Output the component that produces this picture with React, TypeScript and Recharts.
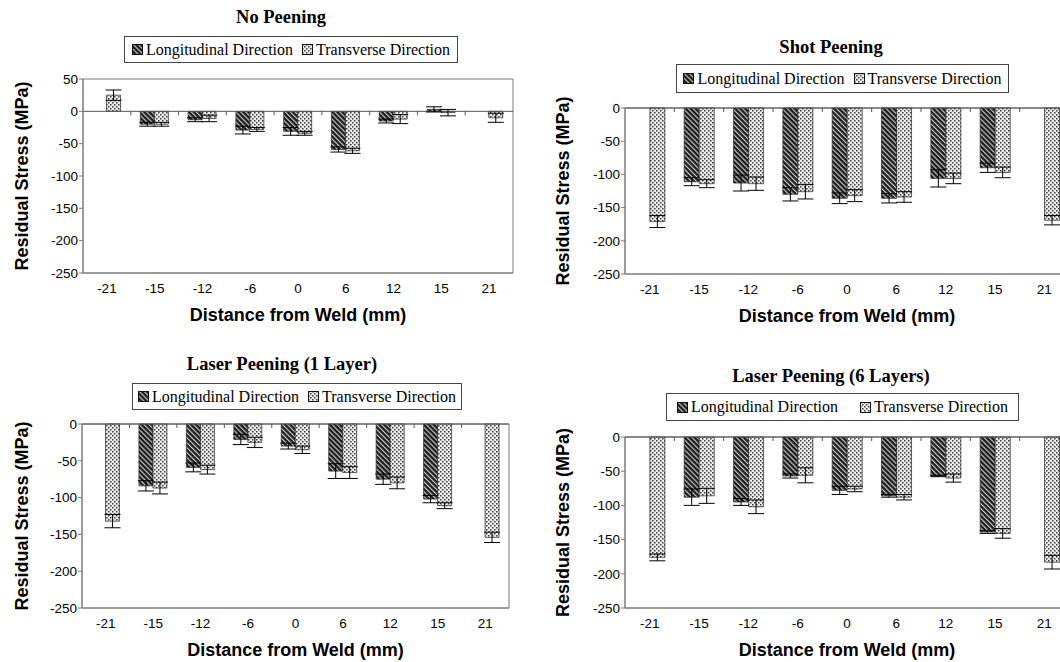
import React from "react";
import {
  BarChart,
  Bar,
  XAxis,
  YAxis,
  ErrorBar,
  ReferenceLine,
  ReferenceArea,
} from "recharts";

// distance from weld (mm)
const distances = ["-21", "-15", "-12", "-6", "0", "6", "12", "15", "21"];

// No peening
const noPeenLong = [null, -20, -13, -29, -31, -59, -15, 3, null];
const noPeenTrans = [25, -20, -11, -28, -34, -61, -12, -2, -10];
const noPeenLongErr = [null, 3, 3, 6, 6, 4, 3, 4, null];
const noPeenTransErr = [8, 3, 5, 3, 3, 4, 7, 5, 7];

// Shot peening
const shotLong = [null, -111, -113, -130, -136, -136, -106, -90, null];
const shotTrans = [-171, -114, -114, -126, -132, -134, -106, -97, -169];
const shotLongErr = [null, 6, 12, 10, 8, 7, 13, 7, null];
const shotTransErr = [9, 6, 10, 11, 9, 8, 8, 8, 7];

// Laser peening, 1 layer
const laser1Long = [null, -84, -59, -21, -30, -64, -75, -102, null];
const laser1Trans = [-132, -87, -62, -25, -35, -66, -80, -111, -154];
const laser1LongErr = [null, 7, 6, 7, 4, 10, 7, 5, null];
const laser1TransErr = [9, 8, 6, 7, 5, 8, 8, 4, 7];

// Laser peening, 6 layers
const laser6Long = [null, -88, -95, -57, -78, -86, -57, -139, null];
const laser6Trans = [-176, -86, -102, -56, -76, -88, -60, -141, -183];
const laser6LongErr = [null, 12, 5, 3, 6, 2, 1, 2, null];
const laser6TransErr = [5, 11, 10, 11, 4, 4, 6, 7, 10];

const ticksUpTo50 = [50, 0, -50, -100, -150, -200, -250];
const ticksUpTo0 = [0, -50, -100, -150, -200, -250];

const buildRows = (
  longi: (number | null)[],
  trans: (number | null)[],
  longErr: (number | null)[],
  transErr: (number | null)[]
) =>
  distances.map((dist, i) => ({
    dist,
    longi: longi[i],
    trans: trans[i],
    longErr: longErr[i],
    transErr: transErr[i],
  }));

const panels = [
  {
    title: "No Peening",
    rows: buildRows(noPeenLong, noPeenTrans, noPeenLongErr, noPeenTransErr),
    domain: [-250, 50],
    ticks: ticksUpTo50,
    left: 0, top: 70, width: 530, height: 255,
    yWidth: 83, marginTop: 9, marginRight: 17, yLabelOffset: 22,
    titleX: 281, titleY: 17,
    legend: { x: 124, y: 36, w: 334, h: 27, gap: 9 },
  },
  {
    title: "Shot Peening",
    rows: buildRows(shotLong, shotTrans, shotLongErr, shotTransErr),
    domain: [-250, 0],
    ticks: ticksUpTo0,
    left: 530, top: 80, width: 545, height: 246,
    yWidth: 95, marginTop: 28, marginRight: 6, yLabelOffset: 33,
    titleX: 831, titleY: 47,
    legend: { x: 676, y: 64, w: 333, h: 29, gap: 9 },
  },
  {
    title: "Laser Peening (1 Layer)",
    rows: buildRows(laser1Long, laser1Trans, laser1LongErr, laser1TransErr),
    domain: [-250, 0],
    ticks: ticksUpTo0,
    left: 0, top: 415, width: 530, height: 245,
    yWidth: 82, marginTop: 9, marginRight: 21, yLabelOffset: 22,
    titleX: 282, titleY: 364,
    legend: { x: 132, y: 383, w: 330, h: 27, gap: 9 },
  },
  {
    title: "Laser Peening (6 Layers)",
    rows: buildRows(laser6Long, laser6Trans, laser6LongErr, laser6TransErr),
    domain: [-250, 0],
    ticks: ticksUpTo0,
    left: 530, top: 410, width: 545, height: 250,
    yWidth: 95, marginTop: 27, marginRight: 6, yLabelOffset: 33,
    titleX: 831, titleY: 376,
    legend: { x: 666, y: 393, w: 353, h: 28, gap: 22 },
  },
];

const AXIS_GRAY = "#7a7a7a";
const sans = "'Liberation Sans', Arial, sans-serif";
const serif = "'Liberation Serif', 'Times New Roman', serif";

// zero line with the small category-boundary ticks hanging below it
const ZeroLine = (props: any) => {
  const { x1, y1, x2, y2 } = props;
  const step = (x2 - x1) / distances.length;
  const marks = [];
  for (let i = 1; i < distances.length; i++) {
    const x = x1 + step * i;
    marks.push(<line key={i} x1={x} x2={x} y1={y1} y2={y1 + 4} stroke="#555" />);
  }
  return (
    <g>
      <line x1={x1} y1={y1} x2={x2} y2={y2} stroke="#555" strokeWidth={1} />
      {marks}
    </g>
  );
};

const Swatch = ({ fill }: { fill: string }) => (
  <svg width={11} height={11} style={{ display: "block" }}>
    <rect x={0.5} y={0.5} width={10} height={10} fill={fill} stroke="#111" />
  </svg>
);

function Panel({ p }: { p: (typeof panels)[number] }) {
  return (
    <>
      <div
        style={{
          position: "absolute",
          left: p.titleX - 160,
          top: p.titleY - 11,
          width: 320,
          lineHeight: "22px",
          textAlign: "center",
          fontFamily: serif,
          fontWeight: "bold",
          fontSize: 18.5,
        }}
      >
        {p.title}
      </div>
      <div
        style={{
          position: "absolute",
          left: p.legend.x,
          top: p.legend.y,
          width: p.legend.w,
          height: p.legend.h,
          boxSizing: "border-box",
          border: "1px solid #444",
          display: "flex",
          alignItems: "center",
          justifyContent: "center",
          gap: p.legend.gap,
          fontFamily: serif,
          fontSize: 16,
          whiteSpace: "nowrap",
          background: "#fff",
        }}
      >
        <span style={{ display: "flex", alignItems: "center", gap: 3 }}>
          <Swatch fill="url(#hatchLong)" />
          Longitudinal Direction
        </span>
        <span style={{ display: "flex", alignItems: "center", gap: 3 }}>
          <Swatch fill="url(#dotTrans)" />
          Transverse Direction
        </span>
      </div>
      <div style={{ position: "absolute", left: p.left, top: p.top }}>
        <BarChart
          width={p.width}
          height={p.height}
          data={p.rows}
          margin={{ top: p.marginTop, right: p.marginRight, bottom: 0, left: 0 }}
          barCategoryGap="20%"
          barGap={0}
        >
          <ReferenceArea
            y1={p.domain[0]}
            y2={p.domain[1]}
            fill="none"
            stroke={AXIS_GRAY}
            strokeWidth={1}
          />
          <XAxis
            dataKey="dist"
            height={52}
            interval={0}
            tickLine={false}
            tickSize={8}
            tickMargin={2}
            axisLine={{ stroke: AXIS_GRAY }}
            tick={{ fontSize: 13.5, fill: "#000", fontFamily: sans }}
            label={{
              value: "Distance from Weld (mm)",
              position: "insideBottom",
              offset: 4,
              style: { fontSize: 18, fontWeight: "bold", fill: "#000", fontFamily: sans },
            }}
          />
          <YAxis
            width={p.yWidth}
            domain={p.domain}
            ticks={p.ticks}
            interval={0}
            tickSize={4}
            tickMargin={1}
            tickLine={{ stroke: AXIS_GRAY }}
            axisLine={{ stroke: AXIS_GRAY }}
            tick={{ fontSize: 13.5, fill: "#000", fontFamily: sans }}
            label={{
              value: "Residual Stress (MPa)",
              angle: -90,
              position: "insideLeft",
              offset: p.yLabelOffset,
              style: {
                textAnchor: "middle",
                fontSize: 18,
                fontWeight: "bold",
                fill: "#000",
                fontFamily: sans,
              },
            }}
          />
          <ReferenceLine y={0} shape={ZeroLine} />
          <Bar
            dataKey="longi"
            fill="url(#hatchLong)"
            stroke="#222"
            strokeWidth={0.7}
            isAnimationActive={false}
          >
            <ErrorBar dataKey="longErr" width={8} stroke="#000" strokeWidth={1} direction="y" />
          </Bar>
          <Bar
            dataKey="trans"
            fill="url(#dotTrans)"
            stroke="#222"
            strokeWidth={0.7}
            isAnimationActive={false}
          >
            <ErrorBar dataKey="transErr" width={8} stroke="#000" strokeWidth={1} direction="y" />
          </Bar>
        </BarChart>
      </div>
    </>
  );
}

export default function App() {
  return (
    <div
      style={{
        position: "fixed",
        left: 0,
        top: 0,
        width: 1060,
        height: 662,
        overflow: "hidden",
        background: "#fff",
      }}
    >
      <svg width={0} height={0} style={{ position: "absolute" }}>
        <defs>
          <pattern
            id="hatchLong"
            width={3.5}
            height={3.5}
            patternUnits="userSpaceOnUse"
            patternTransform="rotate(-45)"
          >
            <rect width={3.5} height={3.5} fill="#1e1e1e" />
            <rect width={1.1} height={3.5} fill="#d0d0d0" />
          </pattern>
          <pattern id="dotTrans" width={4} height={4} patternUnits="userSpaceOnUse">
            <rect width={4} height={4} fill="#ececec" />
            <rect x={0} y={0} width={1.5} height={1.5} fill="#3a3a3a" />
            <rect x={2} y={2} width={1.5} height={1.5} fill="#3a3a3a" />
          </pattern>
        </defs>
      </svg>
      {panels.map((p) => (
        <Panel key={p.title} p={p} />
      ))}
    </div>
  );
}
